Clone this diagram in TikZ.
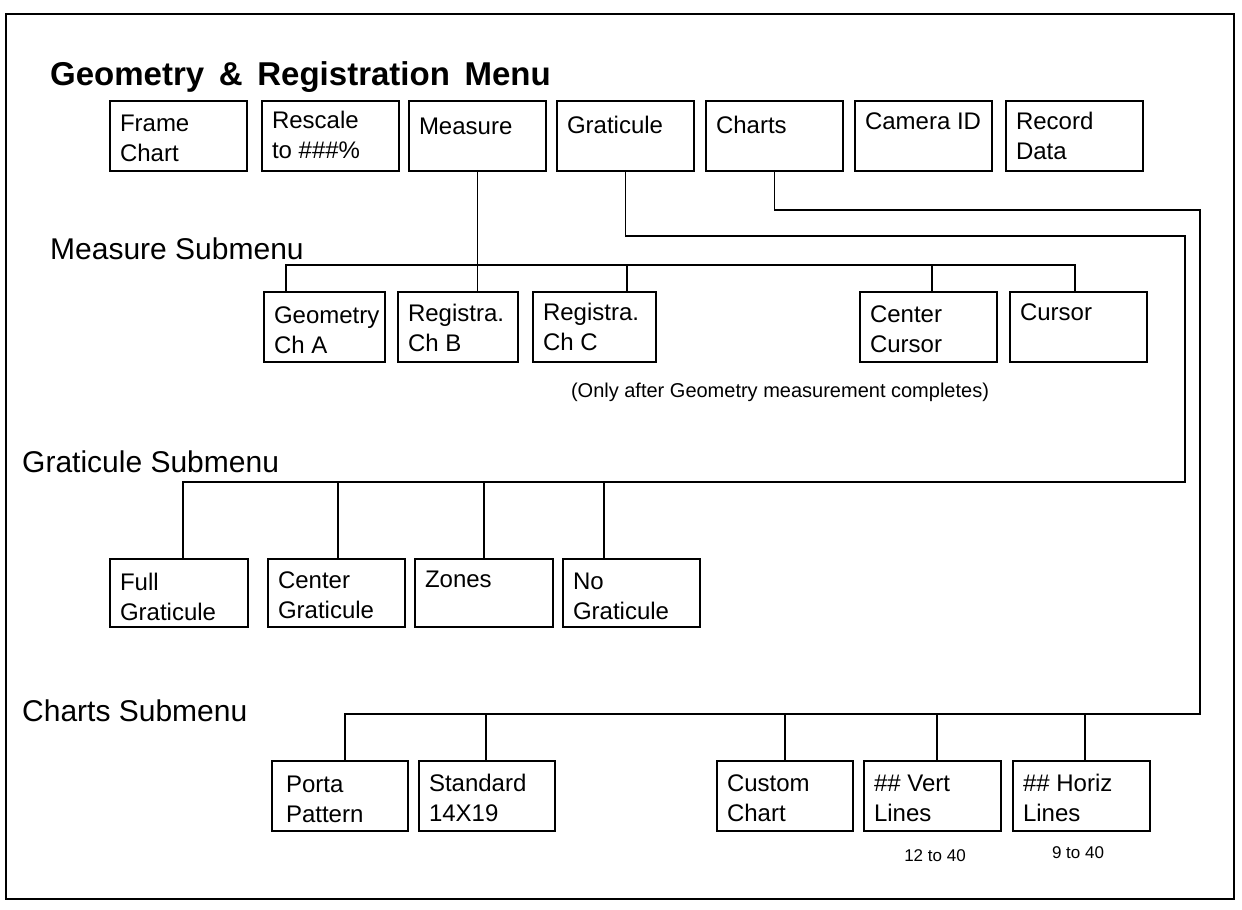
\documentclass[tikz,border=0pt]{standalone}
\usepackage{fontspec}
\setmainfont{Liberation Sans}
% text block of a menu box: [first baseline]{width}{height}{lines}
\newcommand\cell[4][30]{\parbox[t][#3pt][t]{#2pt}{\fontsize{24}{30}\selectfont\raggedright\leftskip=10pt\rule{0pt}{#1pt}#4}}
\begin{document}
\begin{tikzpicture}[x=1pt,y=-1pt,
  menubox/.style={draw, line width=1.6pt, anchor=north west, inner sep=0pt, outer sep=0pt},
  wire/.style={line width=1.4pt},
  heading/.style={anchor=base west, inner sep=0pt, font=\fontsize{30}{36}\selectfont},
  remark/.style={anchor=base, inner sep=0pt, font=\fontsize{20}{24}\selectfont},
  limits/.style={anchor=base, inner sep=0pt, font=\fontsize{17}{20}\selectfont}]
\useasboundingbox (0,0) rectangle (1242,910);
\draw[line width=1.4pt] (6,14) rectangle (1234,899);

% main menu
\node[anchor=base west, inner sep=0pt, font=\bfseries\fontsize{33}{40}\selectfont] (title) at (50,85) {Geometry \,\&\, Registration \,Menu};
\node[menubox] (frame) at (110,101) {\cell{137}{70}{Frame\\Chart}};
\node[menubox] (rescale) at (262,101) {\cell[27]{137}{70}{Rescale\\to \#\#\#\%}};
\node[menubox] (meas) at (409,101) {\cell[33]{137}{70}{Measure}};
\node[menubox] (grat) at (557,101) {\cell[32]{137}{70}{Graticule}};
\node[menubox] (charts) at (706,101) {\cell[32]{137}{70}{Charts}};
\node[menubox] (camera) at (855,101) {\cell[28]{137}{70}{Camera ID}};
\node[menubox] (record) at (1006,101) {\cell[28]{137}{70}{Record\\Data}};

% measure submenu
\node[heading] (mlabel) at (50,259) {Measure Submenu};
\node[menubox] (geo) at (264,292) {\cell[31]{121}{70}{Geometry\\Ch A}};
\node[menubox] (chb) at (398,292) {\cell[29]{120}{70}{Registra.\\Ch B}};
\node[menubox] (chc) at (533,292) {\cell[28]{123}{70}{Registra.\\Ch C}};
\node[menubox] (ccur) at (860,292) {\cell[30]{137}{70}{Center\\Cursor}};
\node[menubox] (cur) at (1010,292) {\cell[28]{137}{70}{Cursor}};
\node[remark] (note) at (780,397) {(Only after Geometry measurement completes)};

% graticule submenu
\node[heading] (glabel) at (22,472) {Graticule Submenu};
\node[menubox] (full) at (110,559) {\cell[31]{138}{68}{Full\\Graticule}};
\node[menubox] (cgrat) at (268,559) {\cell[29]{137}{68}{Center\\Graticule}};
\node[menubox] (zones) at (415,559) {\cell[28]{138}{68}{Zones}};
\node[menubox] (nograt) at (563,559) {\cell[30]{137}{68}{No\\Graticule}};

% charts submenu
\node[heading] (clabel) at (22,721) {Charts Submenu};
\node[menubox] (porta) at (272,761) {\cell[31]{136}{70}{\hspace*{4pt}Porta\\\hspace*{4pt}Pattern}};
\node[menubox] (std) at (419,761) {\cell[30]{136}{70}{Standard\\14X19}};
\node[menubox] (custom) at (717,761) {\cell[30]{136}{70}{Custom\\Chart}};
\node[menubox] (vert) at (864,761) {\cell[30]{137}{70}{\#\# Vert\\Lines}};
\node[menubox] (horiz) at (1013,761) {\cell[30]{137}{70}{\#\# Horiz\\Lines}};
\node[limits] (vrange) at (935,861) {12 to 40};
\node[limits] (hrange) at (1078,858) {9 to 40};

% measure connectors
\coordinate (m1) at (286,265);
\coordinate (m3) at (627,265);
\coordinate (m4) at (932,265);
\coordinate (m5) at (1075,265);
\draw[wire] (meas.south) -- (meas.south |- chb.north);
\draw[wire] (m1 |- geo.north) -- (m1) -- (m5) -- (m5 |- cur.north);
\draw[wire] (m3) -- (m3 |- chc.north);
\draw[wire] (m4) -- (m4 |- ccur.north);

% graticule connectors
\coordinate (gturn) at (1185,236);
\coordinate (g1) at (183,482);
\coordinate (g2) at (338,482);
\coordinate (g3) at (484,482);
\coordinate (g4) at (604,482);
\draw[wire] (grat.south) |- (gturn) -- (gturn |- g1) -- (g1) -- (g1 |- full.north);
\draw[wire] (g2) -- (g2 |- cgrat.north);
\draw[wire] (g3) -- (g3 |- zones.north);
\draw[wire] (g4) -- (g4 |- nograt.north);

% charts connectors
\coordinate (cturn) at (1200,210);
\coordinate (c1) at (345,714);
\coordinate (c2) at (486,714);
\coordinate (c3) at (785,714);
\coordinate (c4) at (937,714);
\coordinate (c5) at (1085,714);
\draw[wire] (charts.south) |- (cturn) -- (cturn |- c1) -- (c1) -- (c1 |- porta.north);
\draw[wire] (c2) -- (c2 |- std.north);
\draw[wire] (c3) -- (c3 |- custom.north);
\draw[wire] (c4) -- (c4 |- vert.north);
\draw[wire] (c5) -- (c5 |- horiz.north);
\end{tikzpicture}
\end{document}
